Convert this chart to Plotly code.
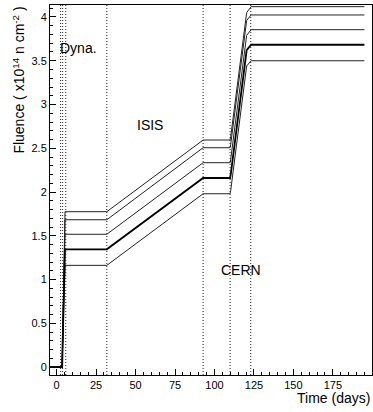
import plotly.graph_objects as go

# Time points (days)
days = [-5, 3.5, 3.8, 5.3, 31.8, 92.8, 109.9, 110.3, 120.4, 123.2, 195]

# Fluence curves (x10^14 n cm^-2)
band_low = [0, 0, 0.27, 1.162, 1.162, 1.98, 1.98, 2.02, 3.44, 3.50, 3.50]
nominal = [0, 0, 0.27, 1.345, 1.345, 2.16, 2.16, 2.20, 3.62, 3.683, 3.683]
band_up1 = [0, 0, 0.27, 1.517, 1.517, 2.335, 2.335, 2.375, 3.79, 3.855, 3.855]
band_up2 = [0, 0, 0.27, 1.683, 1.683, 2.506, 2.506, 2.546, 3.96, 4.023, 4.023]
band_up3 = [0, 0, 0.27, 1.775, 1.775, 2.594, 2.594, 2.634, 4.05, 4.118, 4.118]

# Irradiation period markers (days)
markers = [2.5, 3.8, 5.8, 31.8, 92.8, 109.9, 123.0]

# Facility labels
labels = ["Dyna.", "ISIS", "CERN"]
label_x = [14, 59, 117]
label_y = [3.65, 2.77, 1.11]

x_ticks = [0, 25, 50, 75, 100, 125, 150, 175]
y_ticks = [0, 0.5, 1, 1.5, 2, 2.5, 3, 3.5, 4]
y_ticklabels = ["0", "0.5", "1", "1.5", "2", "2.5", "3", "3.5", "4"]

FONT = "Liberation Sans, Arial, sans-serif"

fig = go.Figure()
for series in [band_low, band_up1, band_up2, band_up3]:
    fig.add_trace(go.Scatter(x=days, y=series, mode="lines",
                             line=dict(color="#222222", width=1),
                             showlegend=False, hoverinfo="skip"))
fig.add_trace(go.Scatter(x=days, y=nominal, mode="lines",
                         line=dict(color="black", width=1.8),
                         showlegend=False, hoverinfo="skip"))

for m in markers:
    fig.add_shape(type="line", x0=m, x1=m, xref="x", y0=0, y1=1, yref="paper",
                  line=dict(color="#222222", width=1, dash="1px,2px"))

for t, lx, ly in zip(labels, label_x, label_y):
    fig.add_annotation(x=lx, y=ly, xref="x", yref="y", text=t, showarrow=False,
                       font=dict(family=FONT, size=14, color="black"))

fig.add_annotation(xref="paper", yref="paper", x=-0.099, y=1.0, xanchor="center",
                   yanchor="top", textangle=-90, showarrow=False,
                   text="Fluence ( x10<sup>14</sup> n cm<sup>-2</sup> )",
                   font=dict(family=FONT, size=14, color="black"))
fig.add_annotation(xref="paper", yref="paper", x=1.0, y=-0.062, xanchor="right",
                   yanchor="middle", showarrow=False, text="Time (days)",
                   font=dict(family=FONT, size=14, color="black"))

fig.update_layout(
    width=373, height=412,
    margin=dict(l=50, r=1, t=5, b=37),
    paper_bgcolor="white", plot_bgcolor="white",
    font=dict(family=FONT, size=11, color="black"),
)
fig.update_xaxes(range=[-4.2, 199.8], showgrid=False, zeroline=False,
                 showline=True, linecolor="black", linewidth=1, mirror=True,
                 ticks="inside", ticklen=6, tickcolor="black",
                 tickvals=x_ticks, ticktext=[str(v) for v in x_ticks],
                 minor=dict(dtick=5, tick0=0, ticks="inside", ticklen=3, tickcolor="black"),
                 tickfont=dict(family=FONT, size=11))
fig.update_yaxes(range=[-0.091, 4.137], showgrid=False, zeroline=False,
                 showline=True, linecolor="black", linewidth=1, mirror=True,
                 ticks="inside", ticklen=6, tickcolor="black",
                 tickvals=y_ticks, ticktext=y_ticklabels,
                 minor=dict(dtick=0.1, tick0=0, ticks="inside", ticklen=3, tickcolor="black"),
                 tickfont=dict(family=FONT, size=11))

fig.write_html("out.html")
